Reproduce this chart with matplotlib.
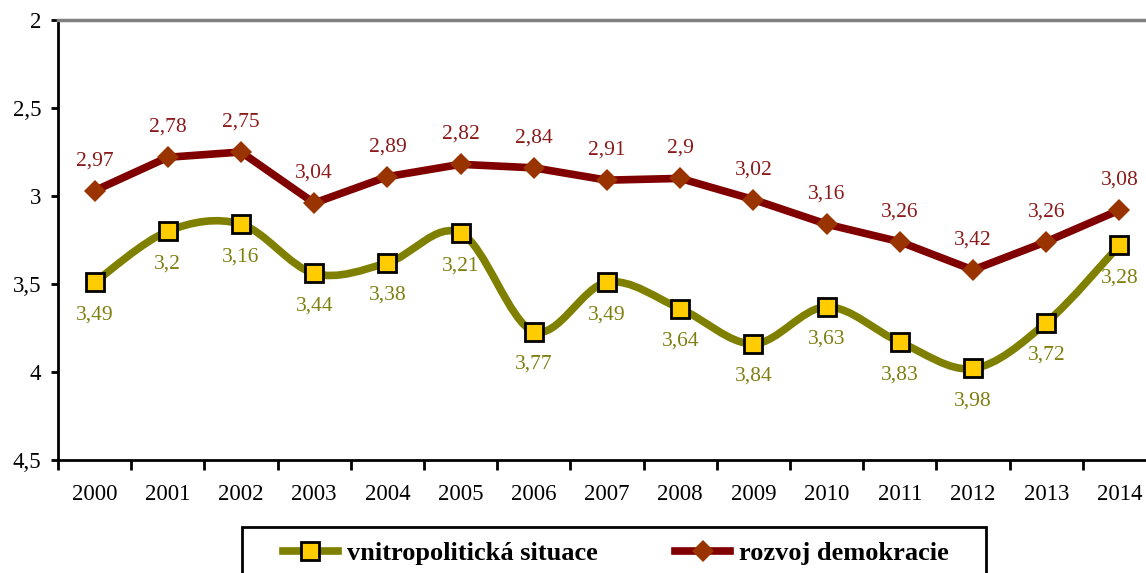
import matplotlib
matplotlib.use("Agg")
import matplotlib.pyplot as plt
from matplotlib.path import Path
from matplotlib.patches import PathPatch, Rectangle
from matplotlib.lines import Line2D
import numpy as np

years = ["2000", "2001", "2002", "2003", "2004", "2005", "2006", "2007",
         "2008", "2009", "2010", "2011", "2012", "2013", "2014"]
vnitro = [3.49, 3.2, 3.16, 3.44, 3.38, 3.21, 3.77, 3.49, 3.64, 3.84, 3.63, 3.83, 3.98, 3.72, 3.28]
rozvoj = [2.97, 2.78, 2.75, 3.04, 2.89, 2.82, 2.84, 2.91, 2.9, 3.02, 3.16, 3.26, 3.42, 3.26, 3.08]
yticks = [2, 2.5, 3, 3.5, 4, 4.5]
series_names = ["vnitropolitická situace", "rozvoj demokracie"]

OLIVE = "#808000"
YELLOW = "#FFCC00"
DARKRED = "#800000"
DIAMOND = "#993300"
RED_LBL = "#8B1A1A"
OLV_LBL = "#7F7F10"

plt.rcParams["font.family"] = ["Liberation Serif", "DejaVu Serif"]

W, H = 1146, 573
fig = plt.figure(figsize=(W / 100, H / 100), dpi=100)
ax = fig.add_axes([58 / W, 1 - 460 / H, 1098 / W, 440 / H])

x = np.arange(len(years))
ax.set_xlim(-0.5, len(years) - 0.5)
ax.set_ylim(4.5, 2)


def fmt(v):
    s = ("%g" % v).replace(".", ",")
    return s


# smoothed olive line (Bezier through the data points)
pts = list(zip(x.astype(float), vnitro))
verts = [pts[0]]
codes = [Path.MOVETO]
n = len(pts)
for i in range(n - 1):
    p0 = pts[i - 1] if i > 0 else pts[i]
    p1 = pts[i]
    p2 = pts[i + 1]
    p3 = pts[i + 2] if i + 2 < n else pts[i + 1]
    c1 = (p1[0] + (p2[0] - p0[0]) / 6, p1[1] + (p2[1] - p0[1]) / 6)
    c2 = (p2[0] - (p3[0] - p1[0]) / 6, p2[1] - (p3[1] - p1[1]) / 6)
    verts += [c1, c2, p2]
    codes += [Path.CURVE4] * 3
ax.add_patch(PathPatch(Path(verts, codes), facecolor="none", edgecolor=OLIVE,
                       lw=5.5, capstyle="round", joinstyle="round", zorder=3))
ax.plot(x, vnitro, ls="none", marker="s", ms=12.5, mfc=YELLOW, mec="black",
        mew=2, zorder=5)

ax.plot(x, rozvoj, color=DARKRED, lw=5.5, marker="D", ms=11.5, mfc=DIAMOND,
        mec=DIAMOND, mew=0, zorder=4, solid_joinstyle="round")

for xi, v in zip(x, rozvoj):
    ax.annotate(fmt(v), (xi, v), xytext=(0, 21.5), textcoords="offset points",
                ha="center", va="center", fontsize=15.5, color=RED_LBL, zorder=6)
for xi, v in zip(x, vnitro):
    ax.annotate(fmt(v), (xi, v), xytext=(0, -23.5), textcoords="offset points",
                ha="center", va="center", fontsize=15.5, color=OLV_LBL, zorder=6)

ax.set_yticks(yticks)
ax.set_yticklabels([fmt(t) for t in yticks], fontsize=16.5)
ax.set_xticks(x)
ax.set_xticklabels(years, fontsize=16.5)
ax.set_xticks(np.arange(-0.5, len(years)), minor=True)
ax.tick_params(axis="x", which="major", length=0, pad=17)
ax.tick_params(axis="x", which="minor", length=7, width=2, direction="out")
ax.tick_params(axis="y", which="major", length=5, width=2, direction="out", pad=7)

for s in ["left", "bottom"]:
    ax.spines[s].set_linewidth(2)
    ax.spines[s].set_color("black")
ax.spines["top"].set_color("#808080")
ax.spines["top"].set_linewidth(2.5)
ax.spines["right"].set_visible(False)

# legend
h1 = Line2D([], [], color=OLIVE, lw=5.5, marker="s", ms=12.5, mfc=YELLOW,
            mec="black", mew=2)
h2 = Line2D([], [], color=DARKRED, lw=5.5, marker="D", ms=11.5, mfc=DIAMOND,
            mec=DIAMOND, mew=0)
leg = fig.legend([h1, h2], series_names, loc="center left",
                 bbox_to_anchor=(283 / W, 1 - 553 / H), ncol=2, frameon=False,
                 prop={"weight": "bold", "size": 19}, handlelength=2.08,
                 handletextpad=0.34, columnspacing=2.95, borderpad=0,
                 borderaxespad=0)
fig.patches.append(Rectangle((242 / W, -0.05), (986 - 242) / W, 1 - 527 / H + 0.05,
                             transform=fig.transFigure, fill=False,
                             edgecolor="black", lw=2))

fig.savefig("out.png", dpi=100)
